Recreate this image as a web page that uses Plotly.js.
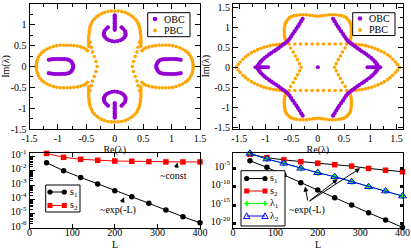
<!DOCTYPE html>
<html><head><meta charset="utf-8">
<script src="https://cdn.plot.ly/plotly-3.0.1.min.js"></script>
<style>html,body{margin:0;padding:0;background:#fff;}#chart{width:411px;height:249px;}</style>
</head><body><div id="chart"></div>
<script>
// ---------- Top-left panel: PBC spectrum (quadrant by quadrant) ----------
const tlPbcX1 = [0,0.06,0.12,0.18,0.23,0.28,0.32,0.36,0.39,0.41,0.43,0.44,0.45,0.45,0.46,0.46,0.46,0.46,0.46,0.435,0.41,0.39,0.36,0.33,0.31,0.48,0.51,0.55,0.60,0.66,0.72,0.78,0.84,0.90,0.96,1.02,1.08,1.14,1.19,1.24,1.28,1.31,1.34,1.36,1.37,1.38,1.38];
const tlPbcY1 = [1.33,1.33,1.32,1.30,1.27,1.23,1.19,1.14,1.09,1.03,0.97,0.91,0.85,0.79,0.73,0.67,0.61,0.55,0.49,0.58,0.46,0.35,0.24,0.12,0,0.38,0.42,0.45,0.47,0.49,0.50,0.51,0.51,0.51,0.51,0.50,0.48,0.45,0.42,0.38,0.34,0.29,0.23,0.17,0.11,0.05,0];
const tlPbcX2 = [-0.06,-0.12,-0.18,-0.23,-0.28,-0.32,-0.36,-0.39,-0.41,-0.43,-0.44,-0.45,-0.45,-0.46,-0.46,-0.46,-0.46,-0.46,-0.435,-0.41,-0.39,-0.36,-0.33,-0.31,-0.48,-0.51,-0.55,-0.60,-0.66,-0.72,-0.78,-0.84,-0.90,-0.96,-1.02,-1.08,-1.14,-1.19,-1.24,-1.28,-1.31,-1.34,-1.36,-1.37,-1.38,-1.38];
const tlPbcY2 = [1.33,1.32,1.30,1.27,1.23,1.19,1.14,1.09,1.03,0.97,0.91,0.85,0.79,0.73,0.67,0.61,0.55,0.49,0.58,0.46,0.35,0.24,0.12,0,0.38,0.42,0.45,0.47,0.49,0.50,0.51,0.51,0.51,0.51,0.50,0.48,0.45,0.42,0.38,0.34,0.29,0.23,0.17,0.11,0.05,0];
const tlPbcX3 = [-0.06,-0.12,-0.18,-0.23,-0.28,-0.32,-0.36,-0.39,-0.41,-0.43,-0.44,-0.45,-0.45,-0.46,-0.46,-0.46,-0.46,-0.46,-0.435,-0.41,-0.39,-0.36,-0.33,-0.48,-0.51,-0.55,-0.60,-0.66,-0.72,-0.78,-0.84,-0.90,-0.96,-1.02,-1.08,-1.14,-1.19,-1.24,-1.28,-1.31,-1.34,-1.36,-1.37,-1.38];
const tlPbcY3 = [-1.33,-1.32,-1.30,-1.27,-1.23,-1.19,-1.14,-1.09,-1.03,-0.97,-0.91,-0.85,-0.79,-0.73,-0.67,-0.61,-0.55,-0.49,-0.58,-0.46,-0.35,-0.24,-0.12,-0.38,-0.42,-0.45,-0.47,-0.49,-0.50,-0.51,-0.51,-0.51,-0.51,-0.50,-0.48,-0.45,-0.42,-0.38,-0.34,-0.29,-0.23,-0.17,-0.11,-0.05];
const tlPbcX4 = [0,0.06,0.12,0.18,0.23,0.28,0.32,0.36,0.39,0.41,0.43,0.44,0.45,0.45,0.46,0.46,0.46,0.46,0.46,0.435,0.41,0.39,0.36,0.33,0.48,0.51,0.55,0.60,0.66,0.72,0.78,0.84,0.90,0.96,1.02,1.08,1.14,1.19,1.24,1.28,1.31,1.34,1.36,1.37,1.38];
const tlPbcY4 = [-1.33,-1.33,-1.32,-1.30,-1.27,-1.23,-1.19,-1.14,-1.09,-1.03,-0.97,-0.91,-0.85,-0.79,-0.73,-0.67,-0.61,-0.55,-0.49,-0.58,-0.46,-0.35,-0.24,-0.12,-0.38,-0.42,-0.45,-0.47,-0.49,-0.50,-0.51,-0.51,-0.51,-0.51,-0.50,-0.48,-0.45,-0.42,-0.38,-0.34,-0.29,-0.23,-0.17,-0.11,-0.05];

// ---------- Top-left panel: OBC spectrum ----------
const tlObcTopX = [-0.12,-0.15,-0.18,-0.19,-0.19,-0.17,-0.14,-0.10,-0.05,0,0.05,0.10,0.14,0.17,0.19,0.19,0.18,0.15,0.12,0,0,0,0,0,0,0,0,0,0];
const tlObcTopY = [0.94,0.90,0.85,0.80,0.75,0.70,0.66,0.63,0.61,0.60,0.61,0.63,0.66,0.70,0.75,0.80,0.85,0.90,0.94,0.88,0.92,0.96,1.00,1.04,1.08,1.12,1.16,1.20,1.23];
const tlObcBotX = [-0.12,-0.15,-0.18,-0.19,-0.19,-0.17,-0.14,-0.10,-0.05,0,0.05,0.10,0.14,0.17,0.19,0.19,0.18,0.15,0.12,0,0,0,0,0,0,0,0,0,0];
const tlObcBotY = [-0.94,-0.90,-0.85,-0.80,-0.75,-0.70,-0.66,-0.63,-0.61,-0.60,-0.61,-0.63,-0.66,-0.70,-0.75,-0.80,-0.85,-0.90,-0.94,-0.88,-0.92,-0.96,-1.00,-1.04,-1.08,-1.12,-1.16,-1.20,-1.23];
const tlObcLeftX = [-1.16,-1.12,-1.08,-1.04,-1.00,-0.96,-0.92,-0.88,-0.84,-0.80,-0.77,-0.75,-0.735,-0.73,-0.735,-0.75,-0.77,-0.80,-0.84,-0.88,-0.92,-0.96,-1.00,-1.04,-1.08,-1.12,-1.16];
const tlObcLeftY = [0.16,0.17,0.175,0.18,0.18,0.18,0.175,0.175,0.17,0.155,0.125,0.085,0.04,0,-0.04,-0.085,-0.125,-0.155,-0.17,-0.175,-0.175,-0.18,-0.18,-0.18,-0.175,-0.17,-0.16];
const tlObcRightX = [1.16,1.12,1.08,1.04,1.00,0.96,0.92,0.88,0.84,0.80,0.77,0.75,0.735,0.73,0.735,0.75,0.77,0.80,0.84,0.88,0.92,0.96,1.00,1.04,1.08,1.12,1.16];
const tlObcRightY = [0.16,0.17,0.175,0.18,0.18,0.18,0.175,0.175,0.17,0.155,0.125,0.085,0.04,0,-0.04,-0.085,-0.125,-0.155,-0.17,-0.175,-0.175,-0.18,-0.18,-0.18,-0.175,-0.17,-0.16];

// ---------- Top-right panel: PBC spectrum ----------
const trPbcX1 = [0,0.05,0.10,0.16,0.22,0.28,0.34,0.40,0.45,0.50,0.54,0.57,0.60,0.62,0.63,0.64,0.64,0.64,0.64,0.63,0.62,0.61,0,0.11,0.22,0.33,0.44,0.55,0.52,0.47,0.43,0.39,0.35,0.32,0.67,0.73,0.79,0.85,0.91,0.97,1.03,1.09,1.15,1.21,1.27,1.33,1.38,1.43,1.48,1.52,1.56];
const trPbcY1 = [1.275,1.28,1.29,1.30,1.31,1.31,1.31,1.30,1.29,1.27,1.24,1.20,1.15,1.10,1.04,0.98,0.92,0.86,0.80,0.74,0.68,0.63,0.58,0.58,0.58,0.58,0.58,0.58,0.48,0.38,0.28,0.19,0.09,0,0.58,0.575,0.565,0.555,0.54,0.52,0.50,0.47,0.44,0.40,0.36,0.31,0.26,0.20,0.13,0.07,0];
const trPbcX2 = [-0.05,-0.10,-0.16,-0.22,-0.28,-0.34,-0.40,-0.45,-0.50,-0.54,-0.57,-0.60,-0.62,-0.63,-0.64,-0.64,-0.64,-0.64,-0.63,-0.62,-0.61,-0.11,-0.22,-0.33,-0.44,-0.55,-0.52,-0.47,-0.43,-0.39,-0.35,-0.32,-0.67,-0.73,-0.79,-0.85,-0.91,-0.97,-1.03,-1.09,-1.15,-1.21,-1.27,-1.33,-1.38,-1.43,-1.48,-1.52,-1.56];
const trPbcY2 = [1.28,1.29,1.30,1.31,1.31,1.31,1.30,1.29,1.27,1.24,1.20,1.15,1.10,1.04,0.98,0.92,0.86,0.80,0.74,0.68,0.63,0.58,0.58,0.58,0.58,0.58,0.48,0.38,0.28,0.19,0.09,0,0.58,0.575,0.565,0.555,0.54,0.52,0.50,0.47,0.44,0.40,0.36,0.31,0.26,0.20,0.13,0.07,0];
const trPbcX3 = [-0.05,-0.10,-0.16,-0.22,-0.28,-0.34,-0.40,-0.45,-0.50,-0.54,-0.57,-0.60,-0.62,-0.63,-0.64,-0.64,-0.64,-0.64,-0.63,-0.62,-0.61,-0.11,-0.22,-0.33,-0.44,-0.55,-0.52,-0.47,-0.43,-0.39,-0.35,-0.67,-0.73,-0.79,-0.85,-0.91,-0.97,-1.03,-1.09,-1.15,-1.21,-1.27,-1.33,-1.38,-1.43,-1.48,-1.52];
const trPbcY3 = [-1.28,-1.29,-1.30,-1.31,-1.31,-1.31,-1.30,-1.29,-1.27,-1.24,-1.20,-1.15,-1.10,-1.04,-0.98,-0.92,-0.86,-0.80,-0.74,-0.68,-0.63,-0.58,-0.58,-0.58,-0.58,-0.58,-0.48,-0.38,-0.28,-0.19,-0.09,-0.58,-0.575,-0.565,-0.555,-0.54,-0.52,-0.50,-0.47,-0.44,-0.40,-0.36,-0.31,-0.26,-0.20,-0.13,-0.07];
const trPbcX4 = [0,0.05,0.10,0.16,0.22,0.28,0.34,0.40,0.45,0.50,0.54,0.57,0.60,0.62,0.63,0.64,0.64,0.64,0.64,0.63,0.62,0.61,0,0.11,0.22,0.33,0.44,0.55,0.52,0.47,0.43,0.39,0.35,0.67,0.73,0.79,0.85,0.91,0.97,1.03,1.09,1.15,1.21,1.27,1.33,1.38,1.43,1.48,1.52];
const trPbcY4 = [-1.275,-1.28,-1.29,-1.30,-1.31,-1.31,-1.31,-1.30,-1.29,-1.27,-1.24,-1.20,-1.15,-1.10,-1.04,-0.98,-0.92,-0.86,-0.80,-0.74,-0.68,-0.63,-0.58,-0.58,-0.58,-0.58,-0.58,-0.58,-0.48,-0.38,-0.28,-0.19,-0.09,-0.58,-0.575,-0.565,-0.555,-0.54,-0.52,-0.50,-0.47,-0.44,-0.40,-0.36,-0.31,-0.26,-0.20,-0.13,-0.07];

// ---------- Top-right panel: OBC spectrum ----------
const trObcX1 = [0.29,0.32,0.35,0.38,0.41,0.445,0.48,0.51,0.54,0.57,0.60,0.635,0.67,0.71,0.75,0.795,0.84,0.885,0.93,0.975,1.02,1.055,1.09,1.11,1.13,1.145,1.15,0.95,0.99,1.03,1.07,1.11,1.19];
const trObcY1 = [1.21,1.15,1.08,1.02,0.96,0.895,0.83,0.77,0.71,0.665,0.625,0.59,0.56,0.52,0.48,0.44,0.40,0.36,0.32,0.275,0.23,0.185,0.14,0.105,0.07,0.035,0,0,0,0,0,0,0];
const trObcX2 = [-0.29,-0.32,-0.35,-0.38,-0.41,-0.445,-0.48,-0.51,-0.54,-0.57,-0.60,-0.635,-0.67,-0.71,-0.75,-0.795,-0.84,-0.885,-0.93,-0.975,-1.02,-1.055,-1.09,-1.11,-1.13,-1.145,-1.15,-0.95,-0.99,-1.03,-1.07,-1.11,-1.19,0];
const trObcY2 = [1.21,1.15,1.08,1.02,0.96,0.895,0.83,0.77,0.71,0.665,0.625,0.59,0.56,0.52,0.48,0.44,0.40,0.36,0.32,0.275,0.23,0.185,0.14,0.105,0.07,0.035,0,0,0,0,0,0,0,0];
const trObcX3 = [-0.29,-0.32,-0.35,-0.38,-0.41,-0.445,-0.48,-0.51,-0.54,-0.57,-0.60,-0.635,-0.67,-0.71,-0.75,-0.795,-0.84,-0.885,-0.93,-0.975,-1.02,-1.055,-1.09,-1.11,-1.13,-1.145];
const trObcY3 = [-1.21,-1.15,-1.08,-1.02,-0.96,-0.895,-0.83,-0.77,-0.71,-0.665,-0.625,-0.59,-0.56,-0.52,-0.48,-0.44,-0.40,-0.36,-0.32,-0.275,-0.23,-0.185,-0.14,-0.105,-0.07,-0.035];
const trObcX4 = [0.29,0.32,0.35,0.38,0.41,0.445,0.48,0.51,0.54,0.57,0.60,0.635,0.67,0.71,0.75,0.795,0.84,0.885,0.93,0.975,1.02,1.055,1.09,1.11,1.13,1.145];
const trObcY4 = [-1.21,-1.15,-1.08,-1.02,-0.96,-0.895,-0.83,-0.77,-0.71,-0.665,-0.625,-0.59,-0.56,-0.52,-0.48,-0.44,-0.40,-0.36,-0.32,-0.275,-0.23,-0.185,-0.14,-0.105,-0.07,-0.035];

// ---------- Bottom panels ----------
const sizesL = [40,80,120,160,200,240,280,320,360,400];
const blS1 = [3.8e-2,1.05e-2,3.55e-3,1.2e-3,4.1e-4,1.55e-4,5.4e-5,1.8e-5,6.2e-6,2.3e-6];
const blS2 = [1.7e-1,9.1e-2,6.6e-2,5.6e-2,5.0e-2,4.8e-2,4.5e-2,4.3e-2,4.3e-2,4.3e-2];
const brS1 = [9.3e-4,1.5e-5,1.3e-7,1.1e-9,1.1e-11,9.3e-14,1.0e-15,8.3e-18,8.9e-20,9.3e-22];
const brS2 = [5.0e-2,6.3e-3,1.6e-3,5.0e-4,2.0e-4,7.9e-5,3.2e-5,7.9e-6,2.5e-6,1.0e-6];
const brLam1 = [9.3e-2,2.7e-3,1.9e-4,8.3e-6,5.4e-7,4.5e-8,2.0e-9,8.9e-11,6.0e-12,2.7e-13];
const brLam2 = [9.3e-2,2.7e-3,1.9e-4,8.3e-6,5.4e-7,4.5e-8,2.0e-9,8.9e-11,6.0e-12,2.7e-13];

// tick labels
const reTickVals = [-1.5,-1,-0.5,0,0.5,1,1.5];
const reTickText = ['-1.5','-1','-0.5','0','0.5','1','1.5'];
const blYTickVals = [1e-6,1e-5,1e-4,1e-3,1e-2,1e-1];
const blYTickText = ['10<sup>-6</sup>','10<sup>-5</sup>','10<sup>-4</sup>','10<sup>-3</sup>','10<sup>-2</sup>','10<sup>-1</sup>'];
const brYTickVals = [1e-20,1e-15,1e-10,1e-5];
const brYTickText = ['10<sup>-20</sup>','10<sup>-15</sup>','10<sup>-10</sup>','10<sup>-5</sup>'];
const lTickVals = [0,100,200,300,400];

const ORANGE = '#FFA500', VIOLET = '#9400D3';
const W = 411, H = 249;
const PX = x => x / W, PY = y => 1 - y / H;
const FONT = {family: 'Liberation Serif, Times New Roman, serif', size: 10, color: '#000'};

const cat = (...a) => [].concat(...a);
const traces = [
  {x: cat(tlPbcX1, tlPbcX2, tlPbcX3, tlPbcX4), y: cat(tlPbcY1, tlPbcY2, tlPbcY3, tlPbcY4), xaxis: 'x', yaxis: 'y', name: 'PBC',
   mode: 'markers', marker: {color: ORANGE, size: 3.6}},
  {x: cat(tlObcTopX, tlObcBotX, tlObcLeftX, tlObcRightX), y: cat(tlObcTopY, tlObcBotY, tlObcLeftY, tlObcRightY), xaxis: 'x', yaxis: 'y', name: 'OBC',
   mode: 'markers', marker: {color: VIOLET, size: 4.2}},
  {x: cat(trPbcX1, trPbcX2, trPbcX3, trPbcX4), y: cat(trPbcY1, trPbcY2, trPbcY3, trPbcY4), xaxis: 'x2', yaxis: 'y2', name: 'PBC',
   mode: 'markers', marker: {color: ORANGE, size: 3.6}},
  {x: cat(trObcX1, trObcX2, trObcX3, trObcX4), y: cat(trObcY1, trObcY2, trObcY3, trObcY4), xaxis: 'x2', yaxis: 'y2', name: 'OBC',
   mode: 'markers', marker: {color: VIOLET, size: 4.2}},
  {x: sizesL, y: blS1, xaxis: 'x3', yaxis: 'y3', name: 's1', mode: 'lines+markers',
   line: {color: '#000', width: 1}, marker: {color: '#000', size: 5.5, symbol: 'circle'}},
  {x: sizesL, y: blS2, xaxis: 'x3', yaxis: 'y3', name: 's2', mode: 'lines+markers',
   line: {color: '#FF0000', width: 1}, marker: {color: '#FF0000', size: 5.5, symbol: 'square'}},
  {x: sizesL, y: brS1, xaxis: 'x4', yaxis: 'y4', name: 's1', mode: 'lines+markers',
   line: {color: '#000', width: 1}, marker: {color: '#000', size: 5.5, symbol: 'circle'}},
  {x: sizesL, y: brS2, xaxis: 'x4', yaxis: 'y4', name: 's2', mode: 'lines+markers',
   line: {color: '#000', width: 1}, marker: {color: '#FF0000', size: 5.5, symbol: 'square'}},
  {x: sizesL, y: brLam1, xaxis: 'x4', yaxis: 'y4', name: 'λ1', mode: 'lines+markers',
   line: {color: '#00FF00', width: 1}, marker: {color: '#00FF00', size: 5, symbol: 'cross'}},
  {x: sizesL, y: brLam2, xaxis: 'x4', yaxis: 'y4', name: 'λ2', mode: 'lines+markers',
   line: {color: '#0000FF', width: 1}, marker: {color: '#0000FF', size: 7, symbol: 'triangle-up-open', line: {width: 1}}}
];
traces.forEach(t => { t.type = 'scatter'; t.showlegend = false; t.cliponaxis = false; t.hoverinfo = 'skip'; });

function linAxis(dom, range, extra) {
  return Object.assign({domain: dom, range: range, showgrid: false, zeroline: false, showline: true,
    linecolor: '#000', linewidth: 1, mirror: 'ticks', ticks: 'inside', ticklen: 5, tickwidth: 1, tickcolor: '#000',
    tickfont: FONT, automargin: false, fixedrange: true}, extra);
}
const dTL_x = [29.5 / W, 200 / W], dTL_y = [PY(129), PY(4)];
const dTR_x = [233 / W, 402.7 / W], dTR_y = [PY(128.5), PY(4)];
const dBL_x = [29.5 / W, 200 / W], dBL_y = [PY(228), PY(153.3)];
const dBR_x = [233 / W, 402.5 / W], dBR_y = [PY(228), PY(152.7)];
const minorRe = {ticks: 'inside', ticklen: 3, tickcolor: '#000', dtick: 0.25, tick0: 0};

const shapes = [], annotations = [];
function box(x0, y0, x1, y1) { shapes.push({type: 'rect', xref: 'paper', yref: 'paper', x0: PX(x0), x1: PX(x1), y0: PY(y1), y1: PY(y0), line: {color: '#000', width: 1}, fillcolor: '#fff', layer: 'above'}); }
function dot(cx, cy, r, c) { shapes.push({type: 'circle', xref: 'paper', yref: 'paper', x0: PX(cx - r), x1: PX(cx + r), y0: PY(cy + r), y1: PY(cy - r), line: {width: 0}, fillcolor: c, layer: 'above'}); }
function sq(cx, cy, r, c) { shapes.push({type: 'rect', xref: 'paper', yref: 'paper', x0: PX(cx - r), x1: PX(cx + r), y0: PY(cy + r), y1: PY(cy - r), line: {width: 0}, fillcolor: c, layer: 'above'}); }
function seg(x0, y0, x1, y1, c, w) { shapes.push({type: 'line', xref: 'paper', yref: 'paper', x0: PX(x0), x1: PX(x1), y0: PY(y0), y1: PY(y1), line: {color: c, width: w || 1}, layer: 'above'}); }
function tri(cx, cy, r, c) { shapes.push({type: 'path', xref: 'paper', yref: 'paper', path: `M ${PX(cx)},${PY(cy - r)} L ${PX(cx + r)},${PY(cy + r * 0.8)} L ${PX(cx - r)},${PY(cy + r * 0.8)} Z`, line: {color: c, width: 1}, fillcolor: 'rgba(0,0,0,0)', layer: 'above'}); }
function cross(cx, cy, r, c) { seg(cx - r, cy, cx + r, cy, c, 1.5); seg(cx, cy - r, cx, cy + r, c, 1.5); }
function label(x, y, text, anchor) { annotations.push({xref: 'paper', yref: 'paper', x: PX(x), y: PY(y), xanchor: anchor || 'left', yanchor: 'middle', text: text, showarrow: false, font: FONT}); }

// legends (drawn as boxes with sample symbols)
box(147.7, 12.7, 190, 36.7); dot(155, 19, 2.3, VIOLET); label(162, 19, 'OBC'); dot(155, 30.5, 1.9, ORANGE); label(162, 30.5, 'PBC');
box(352.7, 12.7, 395, 35.5); dot(360, 18.5, 2.3, VIOLET); label(367, 18.5, 'OBC'); dot(360, 30, 1.9, ORANGE); label(367, 30, 'PBC');
box(45.7, 185, 80, 212);
seg(50, 192, 64.3, 192, '#000'); dot(50, 192, 2.6, '#000'); dot(64.3, 192, 2.6, '#000'); label(68, 192, 's<sub>1</sub>');
seg(50, 205.5, 64.3, 205.5, '#FF0000'); sq(50, 205.5, 2.5, '#FF0000'); sq(64.3, 205.5, 2.5, '#FF0000'); label(68, 205.5, 's<sub>2</sub>');
box(241, 170.7, 285, 226);
seg(246.7, 178.5, 265, 178.5, '#000'); dot(246.7, 178.5, 2.6, '#000'); dot(265, 178.5, 2.6, '#000'); label(268, 178.5, 's<sub>1</sub>');
seg(246.7, 191, 265, 191, '#FF0000'); sq(246.7, 191, 2.5, '#FF0000'); sq(265, 191, 2.5, '#FF0000'); label(268, 191, 's<sub>2</sub>');
seg(246.7, 203.5, 265, 203.5, '#00FF00'); cross(246.7, 203.5, 2.5, '#00FF00'); cross(265, 203.5, 2.5, '#00FF00'); label(268, 203.5, 'λ<sub>1</sub>');
seg(246.7, 216, 265, 216, '#0000FF'); tri(246.7, 216, 3.2, '#0000FF'); tri(265, 216, 3.2, '#0000FF'); label(268, 216, 'λ<sub>2</sub>');

// x-axis titles of the bottom panels
label(114.7, 244.5, 'L', 'center');
label(317.7, 244.5, 'L', 'center');

// text notes with arrows
const arrowBase = {showarrow: true, arrowhead: 2, arrowsize: 1, arrowwidth: 1, arrowcolor: '#000', font: FONT};
annotations.push(Object.assign({}, arrowBase, {xref: 'x3', yref: 'y3', x: 348, y: -1.41, ax: -4.5, ay: 12.5, text: '~const'}));
annotations.push(Object.assign({}, arrowBase, {xref: 'x3', yref: 'y3', x: 222, y: -3.85, ax: -5.7, ay: 12.7, text: '~exp(-L)'}));
annotations.push({xref: 'x4', yref: 'y4', x: 174, y: -16.35, text: '~exp(-L)', showarrow: false, font: FONT});
annotations.push(Object.assign({}, arrowBase, {xref: 'x4', yref: 'y4', x: 170, y: -10.0, ax: 3, ay: 15.5, text: ''}));
annotations.push(Object.assign({}, arrowBase, {xref: 'x4', yref: 'y4', x: 247, y: -8.05, ax: -29.7, ay: 22.7, text: ''}));
annotations.push(Object.assign({}, arrowBase, {xref: 'x4', yref: 'y4', x: 300, y: -5.08, ax: -52, ay: 33.7, text: ''}));

const layout = {
  width: W, height: H, margin: {l: 0, r: 0, t: 0, b: 0}, paper_bgcolor: '#fff', plot_bgcolor: '#fff',
  font: FONT, showlegend: false,
  xaxis: linAxis(dTL_x, [-1.5, 1.5], {anchor: 'y', tickmode: 'array', tickvals: reTickVals, ticktext: reTickText, minor: minorRe, title: {text: 'Re(λ)', font: FONT, standoff: 1}}),
  yaxis: linAxis(dTL_y, [-1.5, 1.5], {anchor: 'x', tickmode: 'array', tickvals: reTickVals, ticktext: reTickText, minor: minorRe, title: {text: 'Im(λ)', font: FONT, standoff: 2}}),
  xaxis2: linAxis(dTR_x, [-1.62, 1.62], {anchor: 'y2', tickmode: 'array', tickvals: reTickVals, ticktext: reTickText, minor: minorRe, title: {text: 'Re(λ)', font: FONT, standoff: 1}}),
  yaxis2: linAxis(dTR_y, [-1.53, 1.58], {anchor: 'x2', tickmode: 'array', tickvals: reTickVals, ticktext: reTickText, minor: minorRe, title: {text: 'Im(λ)', font: FONT, standoff: 2}}),
  xaxis3: linAxis(dBL_x, [0, 400], {anchor: 'y3', tickmode: 'array', tickvals: lTickVals, ticklen: 4, ticklabelstandoff: -5}),
  yaxis3: linAxis(dBL_y, [-6, -0.76], {anchor: 'x3', type: 'log', tickmode: 'array', tickvals: blYTickVals, ticktext: blYTickText, mirror: true, ticklabelshift: -2,
    minor: {ticks: 'inside', ticklen: 3, tickcolor: '#000', dtick: 'D1'}}),
  xaxis4: linAxis(dBR_x, [0, 400], {anchor: 'y4', tickmode: 'array', tickvals: lTickVals, ticks: '', mirror: true, ticklabelstandoff: -5}),
  yaxis4: linAxis(dBR_y, [-21.2, -0.86], {anchor: 'x4', type: 'log', tickmode: 'array', tickvals: brYTickVals, ticktext: brYTickText, ticklen: 3, tickwidth: 3, ticklabelshift: -2}),
  shapes: shapes, annotations: annotations
};
Plotly.newPlot('chart', traces, layout, {staticPlot: true, displayModeBar: false});
</script></body></html>
